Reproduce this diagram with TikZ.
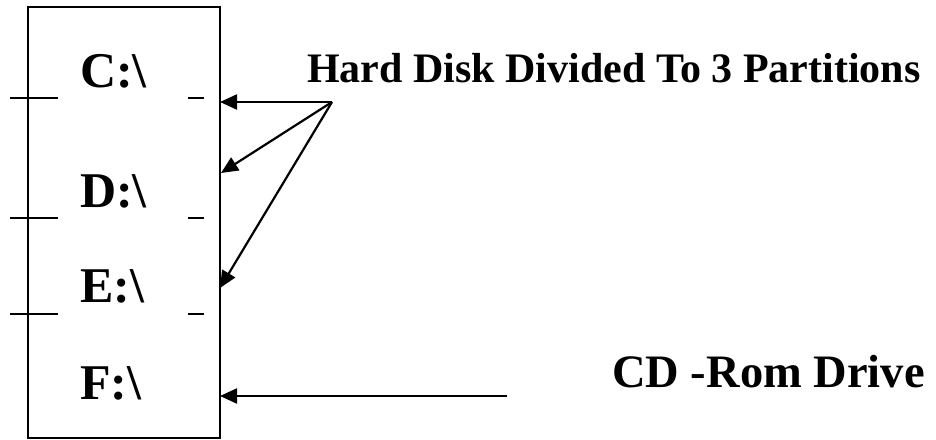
\documentclass[tikz,border=0pt]{standalone}
\usepackage{fontspec}
\setmainfont{Liberation Serif}
\usetikzlibrary{arrows.meta}
\tikzset{
  thk/.style={line width=2.2pt, draw=black},
  arr/.style={draw=black, line width=2.2pt, -{Triangle[length=17pt,width=15pt]}},
  tick/.style={draw=black, line width=2.4pt},
  drv/.style={font=\fontsize{50}{60}\selectfont\bfseries, anchor=base west, inner sep=0pt},
  lbl/.style={anchor=base west, inner sep=0pt}
}
\begin{document}
\begin{tikzpicture}[x=1pt,y=1pt]
\useasboundingbox (0,0) rectangle (936,-439);
\node[thk, rectangle, minimum width=192pt, minimum height=431pt, anchor=north west, inner sep=0pt] (disk) at (27,-6) {};
\node[drv] (c) at (80,-87) {C:\textbackslash};
\node[drv] (d) at (80,-207) {D:\textbackslash};
\node[drv] (e) at (80,-302) {E:\textbackslash};
\node[drv] (f) at (80,-399) {F:\textbackslash};
\foreach \yy in {98,218,314}{
  \draw[tick] (10,-\yy) -- (58,-\yy);
  \draw[tick] (188,-\yy) -- (204,-\yy);
}
\node[lbl, font=\fontsize{42}{50}\selectfont\bfseries] (hd) at (307,-82) {Hard Disk Divided To 3 Partitions};
\node[lbl, font=\fontsize{46.5}{56}\selectfont\bfseries] (cd) at (612,-387) {CD -Rom Drive};
\coordinate (apex) at (332,-102);
\coordinate (tc) at (220,-102);
\coordinate (td) at (221,-173);
\coordinate (te) at (220,-288);
\coordinate (fs) at (507,-396);
\coordinate (tf) at (220,-396);
\draw[arr] (apex) -- (tc);
\draw[arr] (apex) -- (td);
\draw[arr] (apex) -- (te);
\draw[arr] (fs) -- (tf);
\end{tikzpicture}
\end{document}
